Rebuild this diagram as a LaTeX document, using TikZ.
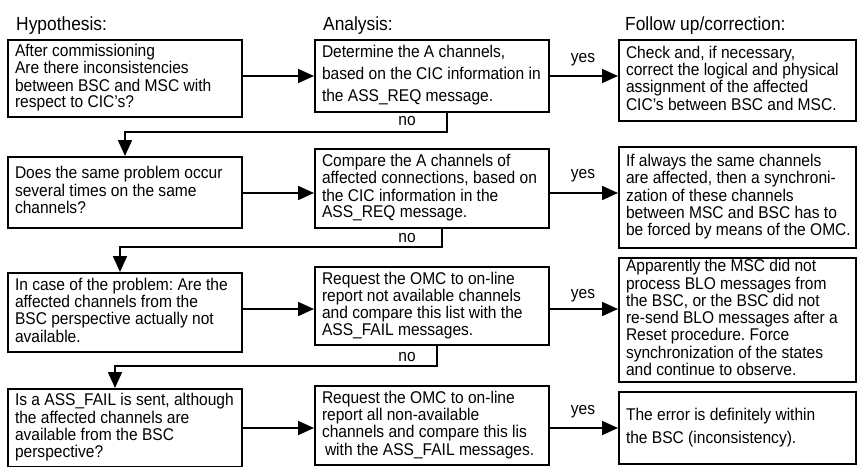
\documentclass[tikz,border=0pt]{standalone}
\usepackage{fontspec}
\setmainfont{Liberation Sans}[FakeStretch=0.915]
\usetikzlibrary{arrows.meta,calc}
\frenchspacing
\newcommand{\bodyfnt}{\fontsize{17}{16.5}\selectfont}
\newcommand{\headfnt}{\fontsize{19}{20}\selectfont}
\newcommand{\boxtext}[2]{\makebox[#1][l]{\begin{tabular}{@{}l@{}}#2\end{tabular}}}
\begin{document}
\frenchspacing
\begin{tikzpicture}[x=1pt,y=-1pt,
  box/.style={draw, line width=2pt, rectangle, inner xsep=7pt, inner ysep=0pt,
    font=\bodyfnt},
  lbox/.style={box, minimum width=234pt},
  mbox/.style={box, minimum width=234pt},
  rbox/.style={box, minimum width=237pt},
  arr/.style={line width=1.8pt, -{Triangle[length=16pt,width=14pt]}},
  hdr/.style={anchor=base west, inner sep=0pt, font=\headfnt},
  lbl/.style={inner sep=0pt, font=\bodyfnt}]
\useasboundingbox (0,0) rectangle (857,466);

% headers
\node[hdr] (h1) at (16,30) {Hypothesis:};
\node[hdr] (h2) at (323,30) {Analysis:};
\node[hdr] (h3) at (625,30) {Follow up/correction:};

% left column
\node[lbox, minimum height=77pt] (L1) at (125,78.5) {\boxtext{220pt}{After commissioning\\Are there inconsistencies\\between BSC and MSC with\\respect to CIC’s?}};
\node[lbox, minimum height=71pt] (L2) at (125,192.5) {\boxtext{220pt}{Does the same problem occur\\several times on the same\\channels?}};
\node[lbox, minimum height=79pt] (L3) at (125,312.5) {\boxtext{220pt}{In case of the problem: Are the\\affected channels from the\\BSC perspective actually not\\available.}};
\node[lbox, minimum height=78pt] (L4) at (125,428) {\boxtext{220pt}{Is a ASS\_FAIL is sent, although\\the affected channels are\\available from the BSC\\perspective?}};

% middle column
\node[mbox, minimum height=72pt] (M1) at (432,76) {\boxtext{220pt}{Determine the A channels,\\[4.5pt]based on the CIC information in\\[4.5pt]the ASS\_REQ message.}};
\node[mbox, minimum height=79pt] (M2) at (432,188.5) {\boxtext{220pt}{Compare the A channels of\\affected connections, based on\\the CIC information in the\\ASS\_REQ message.}};
\node[mbox, minimum height=78pt] (M3) at (432,306) {\boxtext{220pt}{Request the OMC to on-line\\report not available channels\\and compare this list with the\\ASS\_FAIL messages.}};
\node[mbox, minimum height=79pt] (M4) at (432,425.5) {\boxtext{220pt}{Request the OMC to on-line\\report all non-available\\channels and compare this lis\\\hspace*{3pt}with the ASS\_FAIL messages.}};

% right column
\node[rbox, minimum height=81pt] (R1) at (737.5,80.5) {\boxtext{223pt}{Check and, if necessary,\\correct the logical and physical\\assignment of the affected\\CIC’s between BSC and MSC.}};
\node[rbox, minimum height=101pt] (R2) at (737.5,197.5) {\boxtext{223pt}{If always the same channels\\are affected, then a synchroni-\\zation of these channels\\between MSC and BSC has to\\be forced by means of the OMC.}};
\node[rbox, minimum height=124pt] (R3) at (737.5,320) {\boxtext{223pt}{Apparently the MSC did not\\process BLO messages from\\the BSC, or the BSC did not\\re-send BLO messages after a\\Reset procedure. Force\\synchronization of the states\\and continue to observe.}};
\node[rbox, minimum height=72pt] (R4) at (737.5,428) {\boxtext{223pt}{The error is definitely within\\[6pt]the BSC (inconsistency).}};

% row levels
\coordinate (r1) at (0,76);
\coordinate (r2) at (0,193);
\coordinate (r3) at (0,309);
\coordinate (r4) at (0,428);

% yes arrows
\draw[arr] (L1.east |- r1) -- (M1.west |- r1);
\draw[arr] (M1.east |- r1) -- (R1.west |- r1);
\draw[arr] (L2.east |- r2) -- (M2.west |- r2);
\draw[arr] (M2.east |- r2) -- (R2.west |- r2);
\draw[arr] (L3.east |- r3) -- (M3.west |- r3);
\draw[arr] (M3.east |- r3) -- (R3.west |- r3);
\draw[arr] (L4.east |- r4) -- (M4.west |- r4);
\draw[arr] (M4.east |- r4) -- (R4.west |- r4);

\node[lbl] (y1) at (583,60) {yes};
\node[lbl] (y2) at (583,176) {yes};
\node[lbl] (y3) at (583,296) {yes};
\node[lbl] (y4) at (583,412) {yes};

% no loops
\coordinate (n1) at (125,132);
\coordinate (n2) at (120,247);
\coordinate (n3) at (115,366);
\draw[arr] ([xshift=15pt]M1.south) |- (n1) -- (n1 |- L2.north);
\draw[arr] ([xshift=10pt]M2.south) |- (n2) -- (n2 |- L3.north);
\draw[arr] ([xshift=5pt]M3.south) |- (n3) -- (n3 |- L4.north);

\node[lbl] (no1) at (407,121) {no};
\node[lbl] (no2) at (407,238) {no};
\node[lbl] (no3) at (407,357) {no};
\end{tikzpicture}
\end{document}
